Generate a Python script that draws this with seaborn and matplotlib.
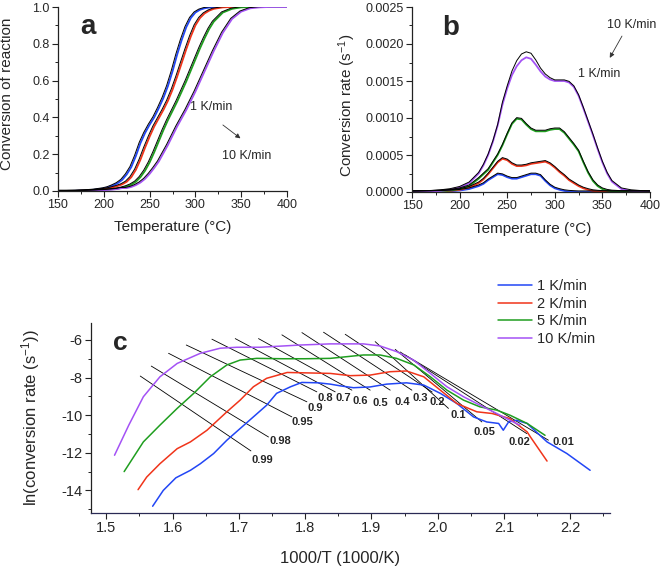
import matplotlib
matplotlib.use("Agg")
import matplotlib.pyplot as plt
import matplotlib.ticker as mticker
import matplotlib.transforms as mtransforms
import seaborn as sns
import pandas as pd

sns.set_style("ticks")
plt.rcParams["font.family"] = ["Liberation Sans", "DejaVu Sans"]
plt.rcParams["mathtext.default"] = "regular"
plt.rcParams["axes.unicode_minus"] = False

# ---------------- data ----------------
rates = ["1 K/min", "2 K/min", "5 K/min", "10 K/min"]
colors = ["#2246f5", "#f0341a", "#1f9e1f", "#a452f5"]

# panel a: conversion vs temperature
temp_conv = [150, 160, 170, 180, 190, 200, 205, 210, 215, 220, 225, 230, 235, 240,
             245, 250, 255, 260, 265, 270, 275, 280, 285, 290, 295, 300, 305, 310,
             315, 320, 330, 340, 350, 360, 370, 380, 390, 400]
conv_1 = [0, 0, 0.001, 0.003, 0.007, 0.014, 0.02, 0.03, 0.042, 0.06, 0.09, 0.13,
          0.19, 0.26, 0.315, 0.36, 0.40, 0.45, 0.505, 0.57, 0.65, 0.74, 0.82, 0.89,
          0.94, 0.97, 0.985, 0.993, 0.997, 0.999, 1, 1, 1, 1, 1, 1, 1, 1]
conv_2 = [0, 0, 0.0005, 0.002, 0.005, 0.01, 0.014, 0.02, 0.027, 0.036, 0.05, 0.075,
          0.115, 0.17, 0.235, 0.295, 0.35, 0.395, 0.44, 0.49, 0.55, 0.62, 0.695,
          0.77, 0.84, 0.9, 0.94, 0.965, 0.98, 0.99, 0.998, 1, 1, 1, 1, 1, 1, 1]
conv_5 = [0, 0, 0, 0.001, 0.003, 0.006, 0.008, 0.01, 0.013, 0.018, 0.025, 0.035,
          0.05, 0.075, 0.11, 0.155, 0.21, 0.27, 0.33, 0.385, 0.435, 0.485, 0.54,
          0.595, 0.655, 0.715, 0.775, 0.83, 0.88, 0.92, 0.97, 0.99, 0.998, 1, 1, 1,
          1, 1]
conv_10 = [0, 0, 0, 0.0005, 0.002, 0.004, 0.006, 0.008, 0.011, 0.016, 0.016, 0.022,
           0.032, 0.046, 0.066, 0.093, 0.125, 0.16, 0.205, 0.25, 0.3, 0.35, 0.395,
           0.44, 0.49, 0.54, 0.595, 0.65, 0.705, 0.76, 0.86, 0.935, 0.975, 0.993,
           0.998, 1, 1, 1]

# panel b: conversion rate vs temperature
temp_rate = [150, 170, 180, 190, 200, 210, 220, 225, 230, 235, 240, 245, 250, 255,
             260, 265, 270, 275, 280, 285, 290, 295, 300, 305, 310, 315, 320, 325,
             330, 335, 340, 345, 350, 355, 360, 370, 380, 390, 400]
rate_1 = [0, 2e-6, 5e-6, 1e-5, 2e-5, 4e-5, 8e-5, 0.00011, 0.00016, 0.0002, 0.00024,
          0.00023, 0.0002, 0.00018, 0.00018, 0.0002, 0.00022, 0.00024, 0.00024,
          0.00022, 0.00015, 9e-5, 5e-5, 3e-5, 1.5e-5, 7e-6, 3e-6, 0, 0, 0, 0, 0, 0,
          0, 0, 0, 0, 0, 0]
rate_2 = [0, 3e-6, 8e-6, 1.5e-5, 3e-5, 6e-5, 0.00012, 0.00017, 0.00024, 0.00032,
          0.0004, 0.00045, 0.00043, 0.00038, 0.00035, 0.00035, 0.00036, 0.00038,
          0.00039, 0.0004, 0.00041, 0.00038, 0.00033, 0.00027, 0.00022, 0.00016,
          0.00012, 8e-5, 5e-5, 3e-5, 1.5e-5, 8e-6, 4e-6, 2e-6, 0, 0, 0, 0, 0]
rate_5 = [0, 5e-6, 1e-5, 2e-5, 4e-5, 8e-5, 0.00018, 0.00024, 0.0003, 0.0004, 0.0005,
          0.00063, 0.00078, 0.00092, 0.00099, 0.00098, 0.00091, 0.00085, 0.00082,
          0.00082, 0.00082, 0.00084, 0.00085, 0.00085, 0.0008, 0.00072, 0.00064,
          0.00055, 0.0004, 0.00026, 0.00015, 8e-5, 4e-5, 2e-5, 1e-5, 3e-6, 0, 0, 0]
rate_10 = [0, 6e-6, 1.5e-5, 3e-5, 6e-5, 0.00012, 0.00025, 0.00036, 0.0005, 0.00068,
           0.0009, 0.00118, 0.0014, 0.00158, 0.0017, 0.00178, 0.00182, 0.0018,
           0.00172, 0.00163, 0.00156, 0.00152, 0.0015, 0.0015, 0.0015, 0.00148,
           0.00142, 0.0013, 0.00113, 0.00095, 0.00077, 0.00058, 0.0004, 0.00025,
           0.00014, 4e-5, 1.5e-5, 5e-6, 0]
# model (black) curve for 10 K/min, visibly above the data at the peak
rate_10_model = [0, 6e-6, 1.5e-5, 3e-5, 6e-5, 0.00012, 0.00025, 0.00036, 0.0005,
                 0.00068, 0.0009, 0.0012, 0.00142, 0.00162, 0.00176, 0.00185,
                 0.00188, 0.00186, 0.00177, 0.00166, 0.00158, 0.00153, 0.0015,
                 0.0015, 0.0015, 0.00148, 0.00142, 0.0013, 0.00113, 0.00095,
                 0.00077, 0.00058, 0.0004, 0.00025, 0.00014, 4e-5, 1.5e-5, 5e-6, 0]

# panel c: ln(rate) vs 1000/T
inv_1 = [1.570, 1.586, 1.605, 1.627, 1.642, 1.662, 1.682, 1.702, 1.722, 1.742, 1.757,
         1.778, 1.795, 1.820, 1.838, 1.853, 1.873, 1.898, 1.923, 1.953, 1.979, 2.004,
         2.029, 2.054, 2.074, 2.092, 2.099, 2.107, 2.119, 2.135, 2.165, 2.195, 2.230]
ln_1 = [-14.84, -14.0, -13.33, -12.93, -12.58, -12.04, -11.33, -10.71, -10.09, -9.47,
        -8.84, -8.49, -8.26, -8.28, -8.35, -8.44, -8.54, -8.50, -8.35, -8.28, -8.40,
        -8.84, -9.38, -10.09, -10.36, -10.44, -10.80, -10.36, -10.27, -10.44, -11.42,
        -12.04, -12.93]
inv_2 = [1.548, 1.561, 1.581, 1.607, 1.627, 1.652, 1.682, 1.702, 1.722, 1.742, 1.773,
         1.800, 1.838, 1.868, 1.898, 1.928, 1.953, 1.979, 2.004, 2.029, 2.059, 2.082,
         2.109, 2.135, 2.140, 2.165]
ln_2 = [-13.96, -13.29, -12.58, -11.78, -11.42, -10.8, -9.82, -9.2, -8.49, -8.04,
        -7.73, -7.75, -7.78, -7.9, -7.87, -7.69, -7.65, -7.96, -8.67, -9.38, -9.82,
        -9.91, -10.18, -10.89, -11.16, -12.44]
inv_5 = [1.527, 1.556, 1.581, 1.607, 1.632, 1.657, 1.682, 1.702, 1.727, 1.767, 1.800,
         1.838, 1.888, 1.913, 1.938, 1.964, 1.989, 2.014, 2.039, 2.064, 2.089, 2.109,
         2.135, 2.162]
ln_5 = [-13.0, -11.42, -10.53, -9.64, -8.84, -7.96, -7.33, -7.07, -6.98, -7.0, -7.0,
        -6.98, -6.8, -6.8, -6.98, -7.33, -7.96, -8.67, -9.2, -9.56, -9.73, -10.0,
        -10.44, -11.07]
inv_10 = [1.5125, 1.534, 1.556, 1.581, 1.607, 1.642, 1.672, 1.697, 1.732, 1.793, 1.838,
          1.888, 1.913, 1.938, 1.9635, 1.989, 2.014, 2.039, 2.064, 2.089, 2.114, 2.124]
ln_10 = [-12.13, -10.53, -9.02, -7.96, -7.25, -6.71, -6.44, -6.39, -6.39, -6.27, -6.21,
         -6.21, -6.32, -6.62, -7.07, -7.78, -8.49, -9.02, -9.47, -9.91, -10.36, -10.53]

# iso-conversion lines
iso_labels = ["0.99", "0.98", "0.95", "0.9", "0.8", "0.7", "0.6", "0.5", "0.4",
              "0.3", "0.2", "0.1", "0.05", "0.02", "0.01"]
iso_x0 = [1.5513, 1.5679, 1.594, 1.6207, 1.6594, 1.6946, 1.7297, 1.765, 1.7952,
          1.8278, 1.8605, 1.9057, 1.9359, 1.9434, 1.951]
iso_x1 = [1.7183, 1.7448, 1.780, 1.8027, 1.8177, 1.8454, 1.8706, 1.8982, 1.9284,
          1.9611, 1.9917, 2.0163, 2.0667, 2.1345, 2.1671]
iso_y0 = [-7.92, -7.39, -6.71, -6.27, -5.96, -5.93, -5.93, -5.73, -5.61, -5.59,
          -5.70, -6.09, -6.50, -6.64, -6.80]
iso_y1 = [-11.90, -11.16, -10.09, -9.29, -8.76, -8.76, -8.67, -8.67, -8.67, -8.67,
          -8.77, -9.64, -10.36, -10.98, -11.33]
# label offset from line end, in pixels (right, down)
iso_label_dx = [11, 12, 11, 8, 8, 8, 8, 10, 12, 8, 5, 10, 3, -7, 15]
iso_label_dy = [9, 4, 5, 6, 6, 6, 11, 13, 12, 8, 10, 7, 10, 8, 2]

# ---------------- tables ----------------
conv_df = pd.DataFrame({
    "T": temp_conv * 4,
    "conv": conv_1 + conv_2 + conv_5 + conv_10,
    "rate": [r for r in rates for _ in temp_conv],
})
rate_df = pd.DataFrame({
    "T": temp_rate * 4,
    "r": rate_1 + rate_2 + rate_5 + rate_10,
    "rate": [r for r in rates for _ in temp_rate],
})
model_df = pd.DataFrame({
    "T": temp_rate * 4,
    "r": rate_1 + rate_2 + rate_5 + rate_10_model,
    "rate": [r for r in rates for _ in temp_rate],
})
inv_all = [inv_1, inv_2, inv_5, inv_10]
ln_all = [ln_1, ln_2, ln_5, ln_10]
arr_df = pd.DataFrame({
    "x": sum(inv_all, []),
    "y": sum(ln_all, []),
    "rate": [r for r, xs in zip(rates, inv_all) for _ in xs],
})
palette = dict(zip(rates, colors))

# ---------------- figure ----------------
W, H = 661, 568
fig = plt.figure(figsize=(W / 100, H / 100), dpi=100)
ax_a = fig.add_axes([58 / W, 1 - 191 / H, 229 / W, 184 / H])
ax_b = fig.add_axes([412 / W, 1 - 192 / H, 238 / W, 185 / H])
ax_c = fig.add_axes([91 / W, 1 - 513 / H, 519 / W, 190 / H])


def style_axes(ax, tick_size):
    sns.despine(ax=ax)
    for s in ["left", "bottom"]:
        ax.spines[s].set_linewidth(0.9)
        ax.spines[s].set_color("#222222")
    ax.tick_params(which="major", direction="out", length=4, width=0.8,
                   labelsize=tick_size, pad=2, color="#222222")
    ax.tick_params(which="minor", direction="out", length=2.5, width=0.7,
                   color="#222222")
    ax.set_facecolor("white")


def fit_overlay(ax, df, y, dx, dy):
    # black model curves, drawn a hair beside the data so both stay visible
    n_before = len(ax.lines)
    sns.lineplot(data=df, x="T", y=y, units="rate", color="black",
                 estimator=None, lw=0.7, legend=False, ax=ax)
    shift = mtransforms.ScaledTranslation(dx / 100, dy / 100, fig.dpi_scale_trans)
    for line in ax.lines[n_before:]:
        line.set_transform(ax.transData + shift)


# panel a
sns.lineplot(data=conv_df, x="T", y="conv", hue="rate", palette=palette,
             estimator=None, lw=1.3, legend=False, ax=ax_a)
fit_overlay(ax_a, conv_df, "conv", -1.3, 0.6)
ax_a.set_xlim(150, 400)
ax_a.set_ylim(0, 1.0)
ax_a.xaxis.set_major_locator(mticker.MultipleLocator(50))
ax_a.xaxis.set_minor_locator(mticker.MultipleLocator(25))
ax_a.yaxis.set_major_locator(mticker.MultipleLocator(0.2))
ax_a.yaxis.set_minor_locator(mticker.MultipleLocator(0.1))
ax_a.yaxis.set_major_formatter(mticker.FormatStrFormatter("%.1f"))
style_axes(ax_a, 9)
ax_a.set_xlabel("Temperature (°C)", fontsize=11)
ax_a.set_ylabel("Conversion of reaction", fontsize=11)
ax_a.xaxis.set_label_coords(0.5, -0.155)
ax_a.yaxis.set_label_coords(-0.19, 0.53)
ax_a.text(183, 0.89, "a", fontsize=20, fontweight="bold", ha="center", va="center")
ax_a.text(294, 0.458, "1 K/min", fontsize=9, ha="left", va="center")
ax_a.text(328.7, 0.19, "10 K/min", fontsize=9, ha="left", va="center")
ax_a.annotate("", xy=(351.6, 0.277), xytext=(327.6, 0.368),
              arrowprops=dict(arrowstyle="-|>", color="#333333", lw=0.6,
                              mutation_scale=7))

# panel b
sns.lineplot(data=rate_df, x="T", y="r", hue="rate", palette=palette,
             estimator=None, lw=1.3, legend=False, ax=ax_b)
fit_overlay(ax_b, model_df, "r", 0, 1.1)
ax_b.set_xlim(150, 400)
ax_b.set_ylim(0, 0.0025)
ax_b.xaxis.set_major_locator(mticker.MultipleLocator(50))
ax_b.xaxis.set_minor_locator(mticker.MultipleLocator(25))
ax_b.yaxis.set_major_locator(mticker.MultipleLocator(0.0005))
ax_b.yaxis.set_minor_locator(mticker.MultipleLocator(0.00025))
ax_b.yaxis.set_major_formatter(mticker.FormatStrFormatter("%.4f"))
style_axes(ax_b, 9)
ax_b.set_xlabel("Temperature (°C)", fontsize=11)
ax_b.set_ylabel("Conversion rate (s$^{-1}$)", fontsize=11)
ax_b.xaxis.set_label_coords(0.508, -0.16)
ax_b.yaxis.set_label_coords(-0.227, 0.47)
ax_b.text(190.4, 0.00222, "b", fontsize=20, fontweight="bold", ha="center", va="center")
ax_b.text(354.5, 0.00226, "10 K/min", fontsize=9, ha="left", va="center", clip_on=False)
ax_b.text(324.7, 0.0016, "1 K/min", fontsize=9, ha="left", va="center")
ax_b.annotate("", xy=(356.3, 0.00178), xytext=(372, 0.00214),
              arrowprops=dict(arrowstyle="-|>", color="#333333", lw=0.6,
                              mutation_scale=7))

# panel c
for lab, x0, x1, y0, y1, dx, dy in zip(iso_labels, iso_x0, iso_x1, iso_y0, iso_y1,
                                       iso_label_dx, iso_label_dy):
    ax_c.plot([x0, x1], [y0, y1], color="black", lw=0.6, zorder=1)
    ax_c.annotate(lab, xy=(x1, y1), xytext=(dx, -dy), textcoords="offset pixels",
                  fontsize=8, fontweight="bold", ha="center", va="center")
sns.lineplot(data=arr_df, x="x", y="y", hue="rate", palette=palette,
             estimator=None, sort=False, lw=1.1, ax=ax_c, zorder=2)
handles, labels = ax_c.get_legend_handles_labels()
ax_c.get_legend().remove()
ax_c.set_xlim(1.477, 2.26)
ax_c.set_ylim(-15.2, -5.1)
ax_c.xaxis.set_major_locator(mticker.MultipleLocator(0.1))
ax_c.xaxis.set_minor_locator(mticker.MultipleLocator(0.05))
ax_c.yaxis.set_major_locator(mticker.MultipleLocator(2))
ax_c.yaxis.set_minor_locator(mticker.MultipleLocator(1))
ax_c.xaxis.set_major_formatter(mticker.FormatStrFormatter("%.1f"))
style_axes(ax_c, 10.5)
ax_c.spines["bottom"].set_color("#2a2a55")
ax_c.set_xlabel("1000/T (1000/K)", fontsize=12)
ax_c.set_ylabel("ln(conversion rate (s$^{-1}$))", fontsize=12)
ax_c.xaxis.set_label_coords(0.48, -0.2)
ax_c.yaxis.set_label_coords(-0.094, 0.5)
ax_c.text(1.5207, -6.18, "c", fontsize=19, fontweight="bold", ha="center", va="center")

fig.legend(handles, labels, loc="upper left", bbox_to_anchor=(498 / W, 1 - 279 / H),
           bbox_transform=fig.transFigure, frameon=False, fontsize=10.5,
           handlelength=2.3, handletextpad=0.35, labelspacing=0.25,
           borderpad=0, borderaxespad=0)

fig.savefig("out.png", dpi=100)
